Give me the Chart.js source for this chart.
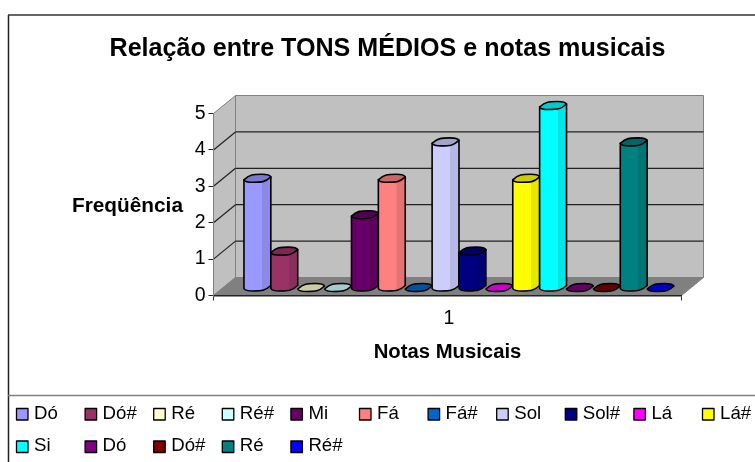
<!DOCTYPE html>
<html>
<head>
  <title>Tons médios</title>
  <style>
    body { margin: 0; background-color: #FFF; }
    canvas { display: block; }
  </style>
</head>
<body>
  <canvas id="chart" width="755" height="462"></canvas>
  <script src="https://cdn.jsdelivr.net/npm/chart.js"></script>
  <script>
    var categories = ['1'];
    var noteNames = ['Dó', 'Dó#', 'Ré', 'Ré#', 'Mi', 'Fá', 'Fá#', 'Sol', 'Sol#', 'Lá', 'Lá#', 'Si', 'Dó', 'Dó#', 'Ré', 'Ré#'];
    var noteValues = [3, 1, 0, 0, 2, 3, 0, 4, 1, 0, 3, 5, 0, 0, 4, 0];
    var noteColors = ['#9999FF', '#993366', '#FFFFCC', '#CCFFFF', '#660066', '#FF8080', '#0066CC', '#CCCCFF',
                      '#000080', '#FF00FF', '#FFFF00', '#00FFFF', '#800080', '#800000', '#008080', '#0000FF'];
    var yTicks = [0, 1, 2, 3, 4, 5];

    var FONT = '"Liberation Sans", Arial, sans-serif';

    // Depth of the fake 3D box and where the cylinders sit inside it
    var DEPTH_X = 22, DEPTH_Y = 18;
    var BAR_SHIFT_X = 11.5, BAR_SHIFT_Y = 4.5;
    var CAP_X = 7, CAP_Y = 7;

    function shade(hex, f) {
      var n = parseInt(hex.slice(1), 16);
      var r = Math.round((n >> 16 & 255) * f);
      var g = Math.round((n >> 8 & 255) * f);
      var b = Math.round((n & 255) * f);
      return 'rgb(' + r + ',' + g + ',' + b + ')';
    }

    function polygon(ctx, pts, fill, stroke) {
      ctx.beginPath();
      ctx.moveTo(pts[0][0], pts[0][1]);
      for (var i = 1; i < pts.length; i++) ctx.lineTo(pts[i][0], pts[i][1]);
      ctx.closePath();
      ctx.fillStyle = fill;
      ctx.fill();
      ctx.strokeStyle = stroke;
      ctx.lineWidth = 1;
      ctx.stroke();
    }

    function line(ctx, x1, y1, x2, y2, color, width) {
      ctx.beginPath();
      ctx.moveTo(x1, y1);
      ctx.lineTo(x2, y2);
      ctx.strokeStyle = color;
      ctx.lineWidth = width;
      ctx.stroke();
    }

    // sheared ellipse on top of a cylinder
    function capPath(ctx, x, y, w) {
      ctx.beginPath();
      ctx.moveTo(x, y - 2);
      ctx.bezierCurveTo(x + 1, y, x + 4, y + 0.5, x + 9, y + 0.5);
      ctx.bezierCurveTo(x + w - 9, y + 0.5, x + w - 6, y + 0.5, x + w, y - CAP_Y + 2);
      ctx.bezierCurveTo(x + w - 1, y - CAP_Y, x + w - 4, y - CAP_Y - 0.5, x + w - 9, y - CAP_Y - 0.5);
      ctx.bezierCurveTo(x + 9, y - CAP_Y - 0.5, x + 6, y - CAP_Y - 0.5, x, y - 2);
      ctx.closePath();
    }

    function drawCylinder(ctx, bar, color) {
      var w = bar.width;
      var x = bar.x - w / 2 + BAR_SHIFT_X;
      var top = bar.y - BAR_SHIFT_Y;
      var base = bar.base - BAR_SHIFT_Y;
      ctx.lineWidth = 1.6;
      ctx.lineJoin = 'round';
      ctx.strokeStyle = '#000';

      if (base - top > 0.5) {
        var g = ctx.createLinearGradient(x, 0, x + w, 0);
        g.addColorStop(0, color);
        g.addColorStop(0.67, color);
        g.addColorStop(0.68, shade(color, 0.9));
        g.addColorStop(1, shade(color, 0.9));
        ctx.beginPath();
        ctx.moveTo(x, top - 2);
        ctx.lineTo(x, base - 2);
        ctx.bezierCurveTo(x + 1, base, x + 4, base + 0.5, x + 9, base + 0.5);
        ctx.bezierCurveTo(x + w - 9, base + 0.5, x + w - 6, base + 0.5, x + w, base - CAP_Y + 2);
        ctx.lineTo(x + w, top - CAP_Y + 2);
        ctx.closePath();
        ctx.fillStyle = g;
        ctx.fill();
        ctx.stroke();
      }

      capPath(ctx, x, top, w);
      ctx.fillStyle = shade(color, 0.8);
      ctx.fill();
      ctx.stroke();
    }

    var boxPlugin = {
      id: 'box3d',
      beforeDraw: function (chart) {
        var ctx = chart.ctx;
        var xs = chart.scales.x, ys = chart.scales.y;
        var left = xs.left, right = xs.right;
        var y0 = ys.getPixelForValue(0), yMax = ys.getPixelForValue(yTicks[yTicks.length - 1]);
        ctx.save();

        // outer frame and legend separator
        line(ctx, 8.5, 15, 8.5, 462, '#222', 1.5);
        line(ctx, 8, 15, 755, 15, '#333', 1.5);
        line(ctx, 8, 395.5, 755, 395.5, '#808080', 1.5);

        // walls and floor
        polygon(ctx, [[left + DEPTH_X, yMax - DEPTH_Y], [right + DEPTH_X, yMax - DEPTH_Y],
                      [right + DEPTH_X, y0 - DEPTH_Y], [left + DEPTH_X, y0 - DEPTH_Y]], '#C0C0C0', '#808080');
        polygon(ctx, [[left, yMax], [left + DEPTH_X, yMax - DEPTH_Y],
                      [left + DEPTH_X, y0 - DEPTH_Y], [left, y0]], '#C0C0C0', '#808080');
        polygon(ctx, [[left, y0], [right, y0], [right + DEPTH_X, y0 - DEPTH_Y],
                      [left + DEPTH_X, y0 - DEPTH_Y]], '#808080', '#808080');

        // gridlines, only for the inner ticks
        yTicks.forEach(function (v) {
          if (v === 0 || v === yTicks[yTicks.length - 1]) return;
          var y = ys.getPixelForValue(v);
          line(ctx, left, y, left + DEPTH_X, y - DEPTH_Y, '#222', 1.2);
          line(ctx, left + DEPTH_X, y - DEPTH_Y, right + DEPTH_X, y - DEPTH_Y, '#222', 1.2);
        });
        ctx.restore();
      },
      beforeDatasetDraw: function () {
        return false;
      },
      afterDatasetsDraw: function (chart) {
        var ctx = chart.ctx;
        ctx.save();
        chart.data.datasets.forEach(function (ds, i) {
          drawCylinder(ctx, chart.getDatasetMeta(i).data[0], noteColors[i]);
        });

        // horizontal axis title for Y, chart.js only rotates it
        ctx.fillStyle = '#000';
        ctx.font = 'bold 20.8px ' + FONT;
        ctx.textAlign = 'left';
        ctx.textBaseline = 'alphabetic';
        ctx.fillText('Freqüência', 72, 212);

        // legend in fixed columns like Excel does
        ctx.font = '18.67px ' + FONT;
        chart.data.datasets.forEach(function (ds, i) {
          var col = i % 11, row = Math.floor(i / 11);
          var x = 16.5 + col * 68.6;
          var y = 408.5 + row * 32.5;
          ctx.fillStyle = noteColors[i];
          ctx.fillRect(x, y, 11.5, 11.5);
          ctx.strokeStyle = '#000';
          ctx.lineWidth = 1.3;
          ctx.strokeRect(x, y, 11.5, 11.5);
          ctx.fillStyle = '#000';
          ctx.fillText(ds.label, x + 17.5, y + 10);
        });
        ctx.restore();
      }
    };

    var datasets = noteNames.map(function (name, i) {
      return { label: name, data: [noteValues[i]], backgroundColor: noteColors[i] };
    });

    new Chart(document.getElementById('chart').getContext('2d'), {
      type: 'bar',
      data: { labels: categories, datasets: datasets },
      plugins: [boxPlugin],
      options: {
        responsive: false,
        animation: false,
        categoryPercentage: 0.919,
        barPercentage: 1,
        layout: { padding: { left: 20, right: 0, top: 0, bottom: 66.5 } },
        plugins: {
          legend: { display: false },
          tooltip: { enabled: false },
          title: {
            display: true,
            text: 'Relação entre TONS MÉDIOS e notas musicais',
            color: '#000',
            font: { family: FONT, size: 25.1, weight: 'bold', lineHeight: 1.2 },
            padding: { top: 34, bottom: 49.4 }
          }
        },
        scales: {
          x: {
            grid: { drawOnChartArea: false, tickLength: 5, color: '#333' },
            border: { color: '#222', width: 1.5 },
            ticks: { color: '#000', padding: 6, labelOffset: 1.5, font: { family: FONT, size: 19.5 } },
            title: {
              display: true,
              text: 'Notas Musicais',
              color: '#000',
              font: { family: FONT, size: 20.3, weight: 'bold', lineHeight: 1.2 },
              padding: { top: 0, bottom: 30.5 }
            },
            afterFit: function (scale) { scale.height = 100; }
          },
          y: {
            min: 0,
            max: yTicks[yTicks.length - 1],
            afterBuildTicks: function (scale) {
              scale.ticks = yTicks.map(function (v) { return { value: v }; });
            },
            grid: { drawOnChartArea: false, tickLength: 5, color: '#222' },
            border: { color: '#808080', width: 1 },
            ticks: { color: '#000', padding: 3, font: { family: FONT, size: 19.5 } },
            afterFit: function (scale) { scale.width = 193.5; }
          },
          // empty scale, only reserves the margin on the right of the box
          yRight: {
            position: 'right',
            grid: { display: false },
            border: { display: false },
            ticks: { display: false },
            afterFit: function (scale) { scale.width = 73.5; }
          }
        }
      }
    });
  </script>
</body>
</html>
